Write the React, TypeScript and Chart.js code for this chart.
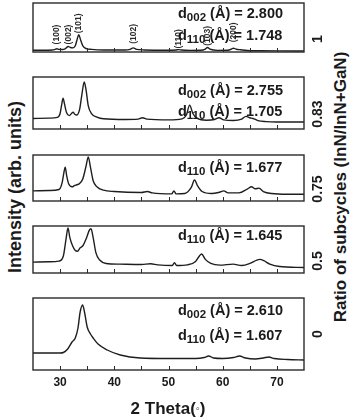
import React, { useEffect, useRef } from "react";
import { Chart, registerables } from "chart.js";

Chart.register(...registerables);

const FONT = '"Liberation Sans", Arial, Helvetica, sans-serif';

// 2-theta axis
const xTickLabels = [30, 40, 50, 60, 70];
const xMinorTicks = [30, 35, 40, 45, 50, 55, 60, 65, 70];

// ratio of subcycles, one per panel (top to bottom)
const ratios = ["1", "0.83", "0.75", "0.5", "0"];
const d002Values = ["2.800", "2.755", "", "", "2.610"];
const d110Values = ["1.748", "1.705", "1.677", "1.645", "1.607"];

// indexed reflections of the ratio-1 pattern
const peakNames = ["(100)", "(002)", "(101)", "(102)", "(110)", "(103)", "(200)"];
const peakAngles = [29.4, 31.5, 33.5, 43.5, 51.9, 57.2, 62.0];
const peakLabelLevels = [11, 11, 27, 12, 5, 9, 14];

// ratio 1
const angles1 = [25, 27, 28.5, 29.0, 29.4, 29.8, 30.4, 31.0, 31.5, 31.9, 32.4, 32.8, 33.1, 33.45, 33.8, 34.2, 34.8, 35.8, 38, 42, 42.9, 43.5, 44.1, 45.5, 50, 51.4, 51.9, 52.4, 54, 56, 56.7, 57.2, 57.7, 59, 61, 61.6, 62.0, 62.5, 63.3, 64.5, 67, 70, 75];
const counts1 = [2.5, 2.5, 2.8, 3.5, 4.8, 3.8, 3.6, 5, 8, 6.5, 6, 9, 17, 25, 17, 9, 5, 3.8, 3, 3, 3.8, 6, 3.8, 3, 2.6, 3, 3.5, 2.8, 2.3, 2.5, 3.8, 6.5, 4, 2.4, 2.6, 4.2, 5.5, 4, 3.2, 2.2, 1.8, 1.6, 1.5];

// ratio 0.83
const angles2 = [25, 28, 29.5, 30.0, 30.3, 30.55, 30.8, 31.2, 31.7, 32.1, 32.4, 32.7, 33.1, 33.6, 34.0, 34.45, 34.8, 35.2, 35.8, 36.8, 38, 42, 44.4, 45.2, 46, 50, 52.5, 53.3, 53.9, 54.5, 55.3, 57, 58.5, 59.3, 60.2, 62, 63.5, 64.3, 65.0, 65.6, 66.5, 68, 70, 75];
const counts2 = [15, 15.5, 16.5, 22, 35, 44, 36, 23, 19, 22, 24, 21, 20, 28, 48, 67, 55, 33, 22, 17, 14.5, 13.5, 14, 16, 14, 13, 14.5, 20, 34, 22, 15, 12.5, 13.5, 16, 13, 12, 14, 18, 16, 15, 12, 10.5, 10, 10];

// ratio 0.75
const angles3 = [25, 28, 29.8, 30.4, 30.7, 30.95, 31.2, 31.6, 32.2, 32.7, 33.1, 33.6, 34.2, 34.8, 35.2, 35.6, 36.1, 36.8, 38, 40, 45, 46.1, 47, 50.6, 51.0, 51.4, 53, 54.2, 54.8, 55.4, 56.2, 58, 59.4, 60.2, 61, 63, 64.6, 65.3, 66, 66.7, 67.5, 69, 72, 75];
const counts3 = [15, 15.5, 17, 28, 42, 50, 38, 25, 21, 23, 24, 26, 33, 52, 65, 50, 30, 21, 16, 14, 12.5, 14, 12, 10.5, 15, 10.5, 11, 20, 31, 22, 14, 11, 13, 15, 12, 12, 18, 21, 18, 19, 14, 11, 10, 10];

// ratio 0.5
const angles4 = [25, 28, 29.8, 30.6, 31.1, 31.45, 31.8, 32.3, 32.8, 33.2, 33.7, 34.2, 34.9, 35.4, 35.7, 36.1, 36.6, 37.3, 38.5, 41, 45, 46.7, 48, 50.7, 51.1, 51.5, 53.5, 55.0, 55.7, 56.1, 56.8, 57.8, 59.5, 61.9, 63.5, 65, 66.3, 66.9, 67.6, 68.7, 70.5, 75];
const counts4 = [16, 16.5, 17.5, 25, 50, 66, 52, 40, 33, 32, 37, 40, 52, 63, 65, 52, 30, 19, 14, 13, 12.5, 13.5, 12, 11, 15, 11, 12, 17, 25, 28, 20, 14, 11.5, 13, 11, 14, 19, 20, 18, 13, 9.5, 8];

// ratio 0
const angles5 = [25, 28, 30, 30.6, 31.4, 32.2, 32.8, 33.3, 33.7, 34.15, 34.5, 35.0, 35.6, 36.1, 37.0, 38.7, 41.1, 44.8, 50, 55, 56.6, 57.4, 58.3, 60, 62, 63.1, 64.2, 66, 67.5, 68.5, 69.5, 72, 75];
const counts5 = [17, 17, 17, 17.5, 21, 28, 32, 42, 58, 65, 58, 43, 36, 32, 26, 20, 15, 12, 11.5, 11.5, 12.5, 14, 12, 11.5, 12.5, 14, 12, 11, 12, 13, 11.5, 10.5, 10];

const series = [
  { angles: angles1, counts: counts1 },
  { angles: angles2, counts: counts2 },
  { angles: angles3, counts: counts3 },
  { angles: angles4, counts: counts4 },
  { angles: angles5, counts: counts5 },
];

// panel frames (page pixels)
const PLOT_LEFT = 33;
const PLOT_RIGHT = 304;
const panelBoxes = [
  { top: 3, bottom: 74 },
  { top: 77, bottom: 151 },
  { top: 155, bottom: 223 },
  { top: 226, bottom: 295 },
  { top: 298, bottom: 370 },
];
const PAD = 2;
const AXIS_H = 22;

const framePlugin = {
  id: "panelFrame",
  afterDatasetsDraw(chart: any) {
    const { ctx, chartArea: a, scales } = chart;
    ctx.save();
    ctx.strokeStyle = "#2a2a2a";
    ctx.lineWidth = 1.4;
    ctx.strokeRect(a.left, a.top, a.right - a.left, a.bottom - a.top);
    ctx.beginPath();
    for (const v of xMinorTicks) {
      const x = Math.round(scales.x.getPixelForValue(v)) + 0.5;
      ctx.moveTo(x, a.bottom);
      ctx.lineTo(x, a.bottom - 4);
    }
    ctx.lineWidth = 1;
    ctx.stroke();
    ctx.restore();
  },
};

const peakLabelPlugin = {
  id: "peakLabels",
  afterDatasetsDraw(chart: any) {
    const { ctx, scales } = chart;
    ctx.save();
    ctx.font = `bold 8.5px ${FONT}`;
    ctx.fillStyle = "#2a2a2a";
    ctx.textAlign = "left";
    ctx.textBaseline = "middle";
    peakNames.forEach((name, i) => {
      ctx.save();
      ctx.translate(scales.x.getPixelForValue(peakAngles[i]), scales.y.getPixelForValue(peakLabelLevels[i]));
      ctx.rotate(-Math.PI / 2);
      ctx.fillText(name, 0, 0);
      ctx.restore();
    });
    ctx.restore();
  },
};

type PanelProps = {
  top: number;
  height: number;
  angles: number[];
  counts: number[];
  axis: boolean;
  peaks: boolean;
};

function Panel({ top, height, angles, counts, axis, peaks }: PanelProps) {
  const ref = useRef<HTMLCanvasElement>(null);
  const width = PLOT_RIGHT - PLOT_LEFT + PAD * 2;
  const canvasH = height + PAD * 2 + (axis ? AXIS_H : 0);

  useEffect(() => {
    const canvas = ref.current;
    if (!canvas) return;
    const chart = new Chart(canvas, {
      type: "line",
      data: {
        datasets: [
          {
            data: angles.map((a, i) => ({ x: a, y: counts[i] })),
            borderColor: "#1e1e1e",
            borderWidth: 1.4,
            pointRadius: 0,
            fill: false,
            cubicInterpolationMode: "monotone",
          },
        ],
      },
      options: {
        animation: false,
        responsive: false,
        devicePixelRatio: 1,
        layout: { padding: { left: PAD, right: PAD, top: PAD, bottom: PAD } },
        plugins: { legend: { display: false }, tooltip: { enabled: false } },
        scales: {
          x: {
            type: "linear",
            min: 25,
            max: 75,
            display: axis,
            grid: { display: false, drawTicks: false },
            border: { display: false },
            afterBuildTicks: (s: any) => {
              s.ticks = xTickLabels.map((v) => ({ value: v }));
            },
            afterFit: (s: any) => {
              s.height = AXIS_H;
            },
            ticks: {
              color: "#1a1a1a",
              padding: 5,
              maxRotation: 0,
              font: { family: FONT, size: 12, weight: "bold" },
            },
          },
          y: { type: "linear", min: 0, max: height, display: false },
        },
      },
      plugins: peaks ? [framePlugin, peakLabelPlugin] : [framePlugin],
    } as any);
    return () => chart.destroy();
  }, []);

  return (
    <canvas
      ref={ref}
      width={width}
      height={canvasH}
      style={{ position: "absolute", left: PLOT_LEFT - PAD, top: top - PAD, width, height: canvasH }}
    />
  );
}

function Rotated({ x, y, size, children }: { x: number; y: number; size: number; children: React.ReactNode }) {
  return (
    <div
      style={{
        position: "absolute",
        left: x,
        top: y,
        transform: "translate(-50%, -50%) rotate(-90deg)",
        whiteSpace: "nowrap",
        fontWeight: "bold",
        fontSize: size,
        lineHeight: 1,
      }}
    >
      {children}
    </div>
  );
}

function DSpacing({ y, hkl, value }: { y: number; hkl: string; value: string }) {
  return (
    <div
      style={{
        position: "absolute",
        left: 178,
        top: y - 8,
        fontWeight: "bold",
        fontSize: 14.5,
        lineHeight: "16px",
        whiteSpace: "nowrap",
      }}
    >
      d<span style={{ fontSize: 11.5, position: "relative", top: 3 }}>{hkl}</span> (Å) = {value}
    </div>
  );
}

// vertical centres of the d-spacing lines in each panel
const d002Rows = [13, 90, 0, 0, 310];
const d110Rows = [35, 111, 167, 235, 335];

export default function App() {
  return (
    <div
      style={{
        position: "absolute",
        left: 0,
        top: 0,
        width: 352,
        height: 418,
        background: "#fff",
        fontFamily: FONT,
        color: "#1a1a1a",
        overflow: "hidden",
      }}
    >
      {series.map((s, i) => (
        <Panel
          key={i}
          top={panelBoxes[i].top}
          height={panelBoxes[i].bottom - panelBoxes[i].top}
          angles={s.angles}
          counts={s.counts}
          axis={i === series.length - 1}
          peaks={i === 0}
        />
      ))}
      {d002Values.map((v, i) => (v ? <DSpacing key={"a" + i} y={d002Rows[i]} hkl="002" value={v} /> : null))}
      {d110Values.map((v, i) => (
        <DSpacing key={"b" + i} y={d110Rows[i]} hkl="110" value={v} />
      ))}
      {ratios.map((r, i) => (
        <Rotated key={"r" + i} x={317} y={(panelBoxes[i].top + panelBoxes[i].bottom) / 2} size={14}>
          {r}
        </Rotated>
      ))}
      <Rotated x={15} y={187} size={18}>
        Intensity (arb. units)
      </Rotated>
      <Rotated x={340} y={187} size={17}>
        Ratio of subcycles (InN/InN+GaN)
      </Rotated>
      <div
        style={{
          position: "absolute",
          left: 168,
          top: 408,
          transform: "translate(-50%, -50%)",
          fontWeight: "bold",
          fontSize: 17,
          lineHeight: 1,
          whiteSpace: "nowrap",
        }}
      >
        2 Theta(<span style={{ fontSize: 11, position: "relative", top: -2 }}>◦</span>)
      </div>
    </div>
  );
}
